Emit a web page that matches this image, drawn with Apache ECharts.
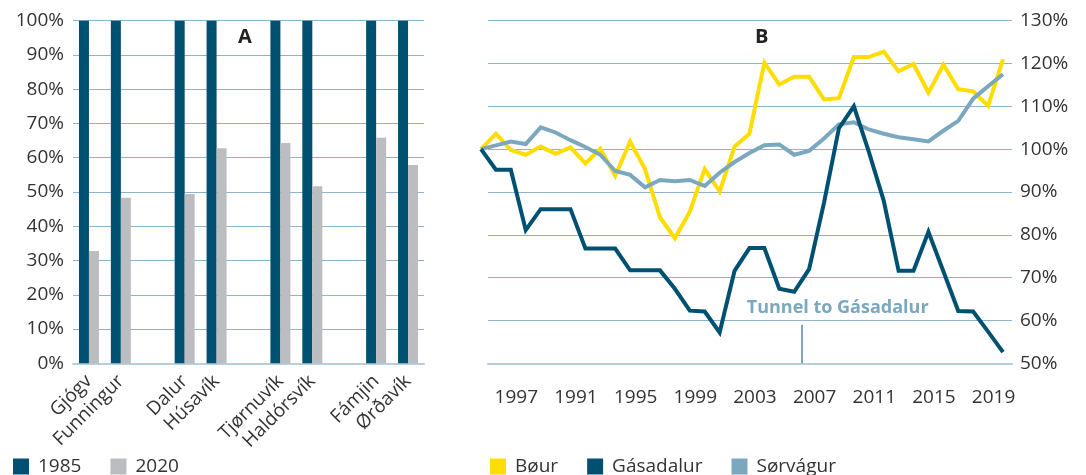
<!DOCTYPE html>
<html>
<head>
<meta charset="utf-8">
<script src="https://cdn.jsdelivr.net/npm/echarts@6/dist/echarts.min.js"></script>
<style>
  html, body { margin: 0; padding: 0; background: #fff; }
  #chart { width: 1086px; height: 475px; }
</style>
</head>
<body>
<div id="chart"></div>
<script>
// A: share of 1985 population left in 2020
var villages = ['Gjógv', 'Funningur', 'Dalur', 'Húsavík', 'Tjørnuvík', 'Haldórsvík', 'Fámjin', 'Ørðavík'];
var share1985 = [100, 100, 100, 100, 100, 100, 100, 100];
var share2020 = [32.8, 48.3, 49.4, 62.8, 64.3, 51.7, 65.8, 57.9];

// B: population index, 1985 = 100%
var firstYear = 1985, lastYear = 2020;
var bour = [100, 103.6, 99.8, 98.7, 100.6, 98.9, 100.4, 96.7, 100.1, 93.8, 101.8, 95.3, 84.1, 79.2, 85.4, 95.4, 90.1, 100.6,
  103.6, 120.2, 115.1, 116.9, 116.9, 111.6, 111.9, 121.5, 121.5, 122.8, 118.2, 119.9, 113.2, 119.7, 114.0, 113.5, 110.1, 121];
var gasadalur = [100, 95.2, 95.2, 81.1, 86, 86, 86, 76.8, 76.8, 76.8, 71.7, 71.7, 71.7, 67.4, 62.3, 62.1, 57.2, 71.6,
  76.9, 76.9, 67.4, 66.7, 72, 87.5, 104.9, 110, 99.4, 88, 71.6, 71.6, 80.7, 71.5, 62.2, 62.1, 57.4, 52.6];
var sorvagur = [100, 100.9, 101.8, 101.2, 105.1, 103.9, 102.1, 100.5, 98.7, 94.9, 94, 91.1, 92.8, 92.5, 92.8, 91.4, 94.5, 97,
  99.1, 100.9, 101.1, 98.7, 99.6, 102.5, 105.8, 106.3, 104.6, 103.6, 102.8, 102.3, 101.8, 104.3, 106.6, 111.8, 114.7, 117.5];

var tickYears = [1987, 1991, 1995, 1999, 2003, 2007, 2011, 2015, 2019];
var tickLabels = ['1997', '1991', '1995', '1999', '2003', '2007', '2011', '2015', '2019'];

var tunnelYear = 2006.5;
var tunnelLabel = 'Tunnel to Gásadalur';

var FONT = '"Open Sans", sans-serif';
var TEXT = '#333333';
var GRID = '#8db4ca';
var BASE = '#b5cfdd';
var DARK = '#005171';
var GREY = '#bcbdc1';
var YELLOW = '#ffdd00';
var LIGHT = '#7ba7bf';

// put an empty slot after every pair of villages
var cats = [], bars85 = [], bars20 = [];
villages.forEach(function (v, i) {
  if (i > 0 && i % 2 === 0) { cats.push(''); bars85.push('-'); bars20.push('-'); }
  cats.push(v); bars85.push(share1985[i]); bars20.push(share2020[i]);
});

var years = [];
for (var y = firstYear; y <= lastYear; y++) years.push(y);
function pairs(vals) { return years.map(function (yr, i) { return [yr, vals[i]]; }); }

var chart = echarts.init(document.getElementById('chart'), null, { renderer: 'canvas' });

var labelStyle = { fontFamily: FONT, fontSize: 19, color: TEXT };

var option = {
  animation: false,
  textStyle: { fontFamily: FONT },
  title: [
    { text: 'A', left: 238, top: 27, padding: 0, textStyle: { fontFamily: FONT, fontSize: 20, fontWeight: 'bold', color: '#222' } },
    { text: 'B', left: 755, top: 27, padding: 0, textStyle: { fontFamily: FONT, fontSize: 20, fontWeight: 'bold', color: '#222' } }
  ],
  legend: [
    {
      data: ['1985', '2020'], left: 13, top: 457, padding: 0, icon: 'rect',
      itemWidth: 16, itemHeight: 16, itemGap: 29,
      textStyle: { fontFamily: FONT, fontSize: 19, color: TEXT, padding: [0, 0, 0, 4] }
    },
    {
      data: ['Bøur', 'Gásadalur', 'Sørvágur'], left: 490, top: 457, padding: 0, icon: 'rect',
      itemWidth: 16, itemHeight: 16, itemGap: 29,
      textStyle: { fontFamily: FONT, fontSize: 19, color: TEXT, padding: [0, 0, 0, 4] }
    }
  ],
  grid: [
    { left: 73, right: 662, top: 20.7, bottom: 111.7, containLabel: false },
    { left: 481, right: 83, top: 20.7, bottom: 111.7, containLabel: false },
    { left: 488, right: 74, top: 20.7, bottom: 111.7, containLabel: false }
  ],
  xAxis: [
    {
      gridIndex: 0, type: 'category', data: cats,
      axisTick: { show: false },
      axisLine: { onZero: false, lineStyle: { color: BASE, width: 2 } },
      axisLabel: Object.assign({ interval: 0, rotate: 45, margin: 15 }, labelStyle)
    },
    {
      gridIndex: 1, type: 'value', min: firstYear, max: lastYear,
      axisLine: { show: false }, axisTick: { show: false }, splitLine: { show: false },
      axisLabel: Object.assign({
        customValues: tickYears, margin: 25, padding: [0, 0, 0, 11],
        formatter: function (v) { var k = tickYears.indexOf(v); return k >= 0 ? tickLabels[k] : ''; }
      }, labelStyle)
    },
    {
      gridIndex: 2, type: 'value', min: 0, max: 1,
      axisLine: { show: true, onZero: false, lineStyle: { color: BASE, width: 2 } },
      axisTick: { show: false }, axisLabel: { show: false }, splitLine: { show: false }
    }
  ],
  yAxis: [
    {
      gridIndex: 0, type: 'value', min: 0, max: 100, interval: 10,
      axisLine: { show: false }, axisTick: { show: false },
      splitLine: { lineStyle: { color: GRID, width: 1 } },
      axisLabel: Object.assign({ formatter: '{value}%', margin: 9 }, labelStyle)
    },
    { gridIndex: 1, type: 'value', min: 50, max: 130, interval: 10, show: false },
    {
      gridIndex: 2, type: 'value', position: 'right', min: 50, max: 130, interval: 10,
      axisLine: { show: false }, axisTick: { show: false },
      splitLine: { lineStyle: { color: GRID, width: 1 } },
      axisLabel: Object.assign({ formatter: '{value}%', margin: 8 }, labelStyle)
    }
  ],
  series: [
    { name: '1985', type: 'bar', xAxisIndex: 0, yAxisIndex: 0, data: bars85, barWidth: 10, barGap: '0%', itemStyle: { color: DARK } },
    { name: '2020', type: 'bar', xAxisIndex: 0, yAxisIndex: 0, data: bars20, barWidth: 10, barGap: '0%', itemStyle: { color: GREY } },
    {
      name: 'Bøur', type: 'line', xAxisIndex: 1, yAxisIndex: 1, data: pairs(bour), z: 3,
      symbol: 'none', color: YELLOW, lineStyle: { color: YELLOW, width: 4, join: 'miter' }
    },
    {
      name: 'Gásadalur', type: 'line', xAxisIndex: 1, yAxisIndex: 1, data: pairs(gasadalur), z: 5,
      symbol: 'none', color: DARK, lineStyle: { color: DARK, width: 4, join: 'miter' },
      markLine: {
        silent: true, symbol: 'none',
        lineStyle: { color: LIGHT, width: 2, type: 'solid' },
        label: {
          show: true, position: 'end', distance: 8, offset: [36, 0], formatter: tunnelLabel,
          fontFamily: FONT, fontSize: 18, fontWeight: 'bold', color: LIGHT
        },
        emphasis: { disabled: true },
        data: [[{ coord: [tunnelYear, 50] }, { coord: [tunnelYear, 59] }]]
      }
    },
    {
      name: 'Sørvágur', type: 'line', xAxisIndex: 1, yAxisIndex: 1, data: pairs(sorvagur), z: 4,
      symbol: 'none', color: LIGHT, lineStyle: { color: LIGHT, width: 4, join: 'miter' }
    }
  ]
};

chart.setOption(option);
</script>
</body>
</html>
